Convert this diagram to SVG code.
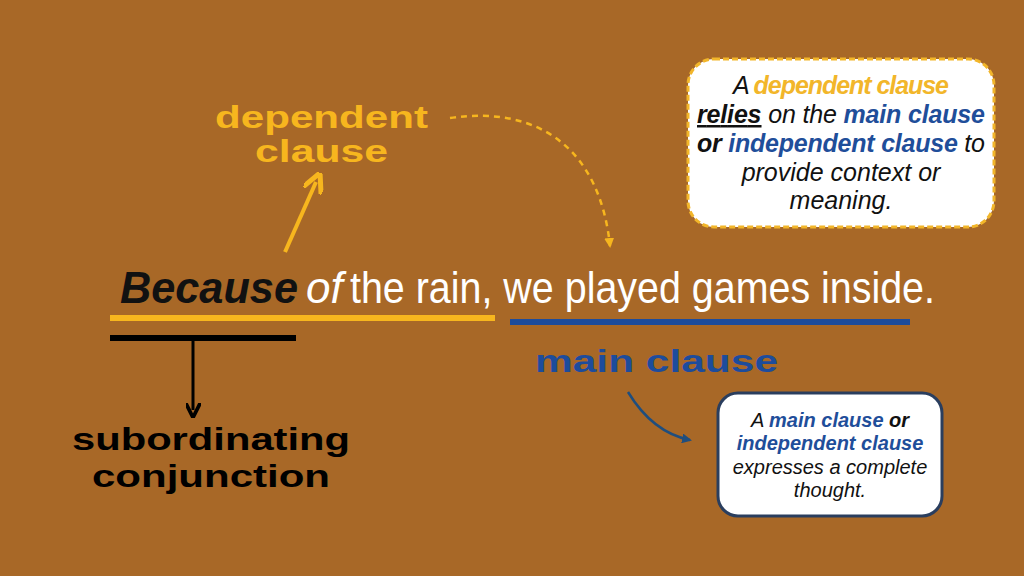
<svg xmlns="http://www.w3.org/2000/svg" width="1024" height="576" viewBox="0 0 1024 576">
<style>
.lbl{font-family:"Liberation Sans",Arial,sans-serif;font-weight:900;font-size:32px}
.bx{font-family:"Liberation Sans",Arial,sans-serif;font-style:italic;text-anchor:middle;fill:#111}
.y{fill:#F2B62A;font-weight:bold}.b{fill:#1F4E9A;font-weight:bold}.k{font-weight:bold}
</style>
<defs>
<marker id="ay" viewBox="0 0 10 10" refX="5" refY="5" markerWidth="5" markerHeight="5" orient="auto"><path d="M0,0L10,5L0,10" fill="none" stroke="#F7B61E" stroke-width="2.5"/></marker>
<marker id="ay2" viewBox="0 0 10 10" refX="8" refY="5" markerWidth="4" markerHeight="4" orient="auto"><path d="M0,0L10,5L0,10z" fill="#F7B61E"/></marker>
<marker id="ak" viewBox="0 0 10 10" refX="5" refY="5" markerWidth="5" markerHeight="5" orient="auto"><path d="M0,0L10,5L0,10" fill="none" stroke="#000" stroke-width="2.5"/></marker>
<marker id="ab" viewBox="0 0 10 10" refX="8" refY="5" markerWidth="4" markerHeight="4" orient="auto"><path d="M0,0L10,5L0,10z" fill="#1F4E7E"/></marker>
</defs>
<rect width="1024" height="576" fill="#A86827"/>
<g id="sentence">
<text x="120" y="303" font-family="'Liberation Sans',sans-serif" font-size="44" textLength="178" lengthAdjust="spacingAndGlyphs" font-weight="bold" font-style="italic" fill="#111">Because</text>
<text x="306" y="303" font-family="'Liberation Sans',sans-serif" font-size="44" font-style="italic" fill="#fff">of</text>
<text x="350" y="303" font-family="'Liberation Sans',sans-serif" font-size="44" textLength="585" lengthAdjust="spacingAndGlyphs" fill="#fff">the rain, we played games inside.</text>
</g>
<g id="connectors">
<line x1="110" y1="318" x2="495" y2="318" stroke="#F7B61E" stroke-width="6"/>
<line x1="510" y1="322" x2="910" y2="322" stroke="#1D4C9C" stroke-width="6"/>
<line x1="110" y1="338" x2="296" y2="338" stroke="#000" stroke-width="6"/>
<line x1="193" y1="338" x2="193" y2="410" stroke="#000" stroke-width="3" marker-end="url(#ak)"/>
<line x1="285" y1="252" x2="316" y2="182" stroke="#F7B61E" stroke-width="4" marker-end="url(#ay)"/>
<path d="M450,118 C540,105 600,150 610,246" fill="none" stroke="#F7B61E" stroke-width="2.5" stroke-dasharray="6,5" marker-end="url(#ay2)"/>
<path d="M628,392 C645,420 665,435 690,440" fill="none" stroke="#1F4E7E" stroke-width="2.5" marker-end="url(#ab)"/>
</g>
<g id="dependent-label" class="lbl" fill="#F7B61E"><text x="215" y="128" textLength="213" lengthAdjust="spacingAndGlyphs">dependent</text><text x="255" y="162" textLength="133" lengthAdjust="spacingAndGlyphs">clause</text></g>
<g id="main-label"><text class="lbl" x="535" y="372" textLength="243" lengthAdjust="spacingAndGlyphs" fill="#1D4C9C">main clause</text></g>
<g id="subord-label" class="lbl" fill="#000"><text x="72" y="450" textLength="278" lengthAdjust="spacingAndGlyphs">subordinating</text><text x="92" y="487" textLength="238" lengthAdjust="spacingAndGlyphs">conjunction</text></g>
<g id="box1">
<rect x="688" y="59" width="306" height="168" rx="26" fill="#fff" stroke="#F2B62A" stroke-width="3" stroke-dasharray="6,3"/>
<text class="bx" font-size="25"><tspan x="841" y="94" textLength="216">A <tspan class="y">dependent clause</tspan></tspan><tspan x="841" y="123" textLength="288"><tspan class="k" text-decoration="underline">relies</tspan> on the <tspan class="b">main clause</tspan></tspan><tspan x="841" y="152" textLength="288"><tspan class="k">or</tspan> <tspan class="b">independent clause</tspan> to</tspan><tspan x="841" y="181">provide context or</tspan><tspan x="841" y="209">meaning.</tspan></text>
</g>
<g id="box2">
<rect x="718" y="393" width="224" height="123" rx="20" fill="#fff" stroke="#2A3E5E" stroke-width="3"/>
<text class="bx" font-size="20"><tspan x="830" y="427">A <tspan class="b">main clause</tspan> <tspan class="k">or</tspan></tspan><tspan x="830" y="450" class="b">independent clause</tspan><tspan x="830" y="474">expresses a complete</tspan><tspan x="830" y="497">thought.</tspan></text>
</g>
</svg>
